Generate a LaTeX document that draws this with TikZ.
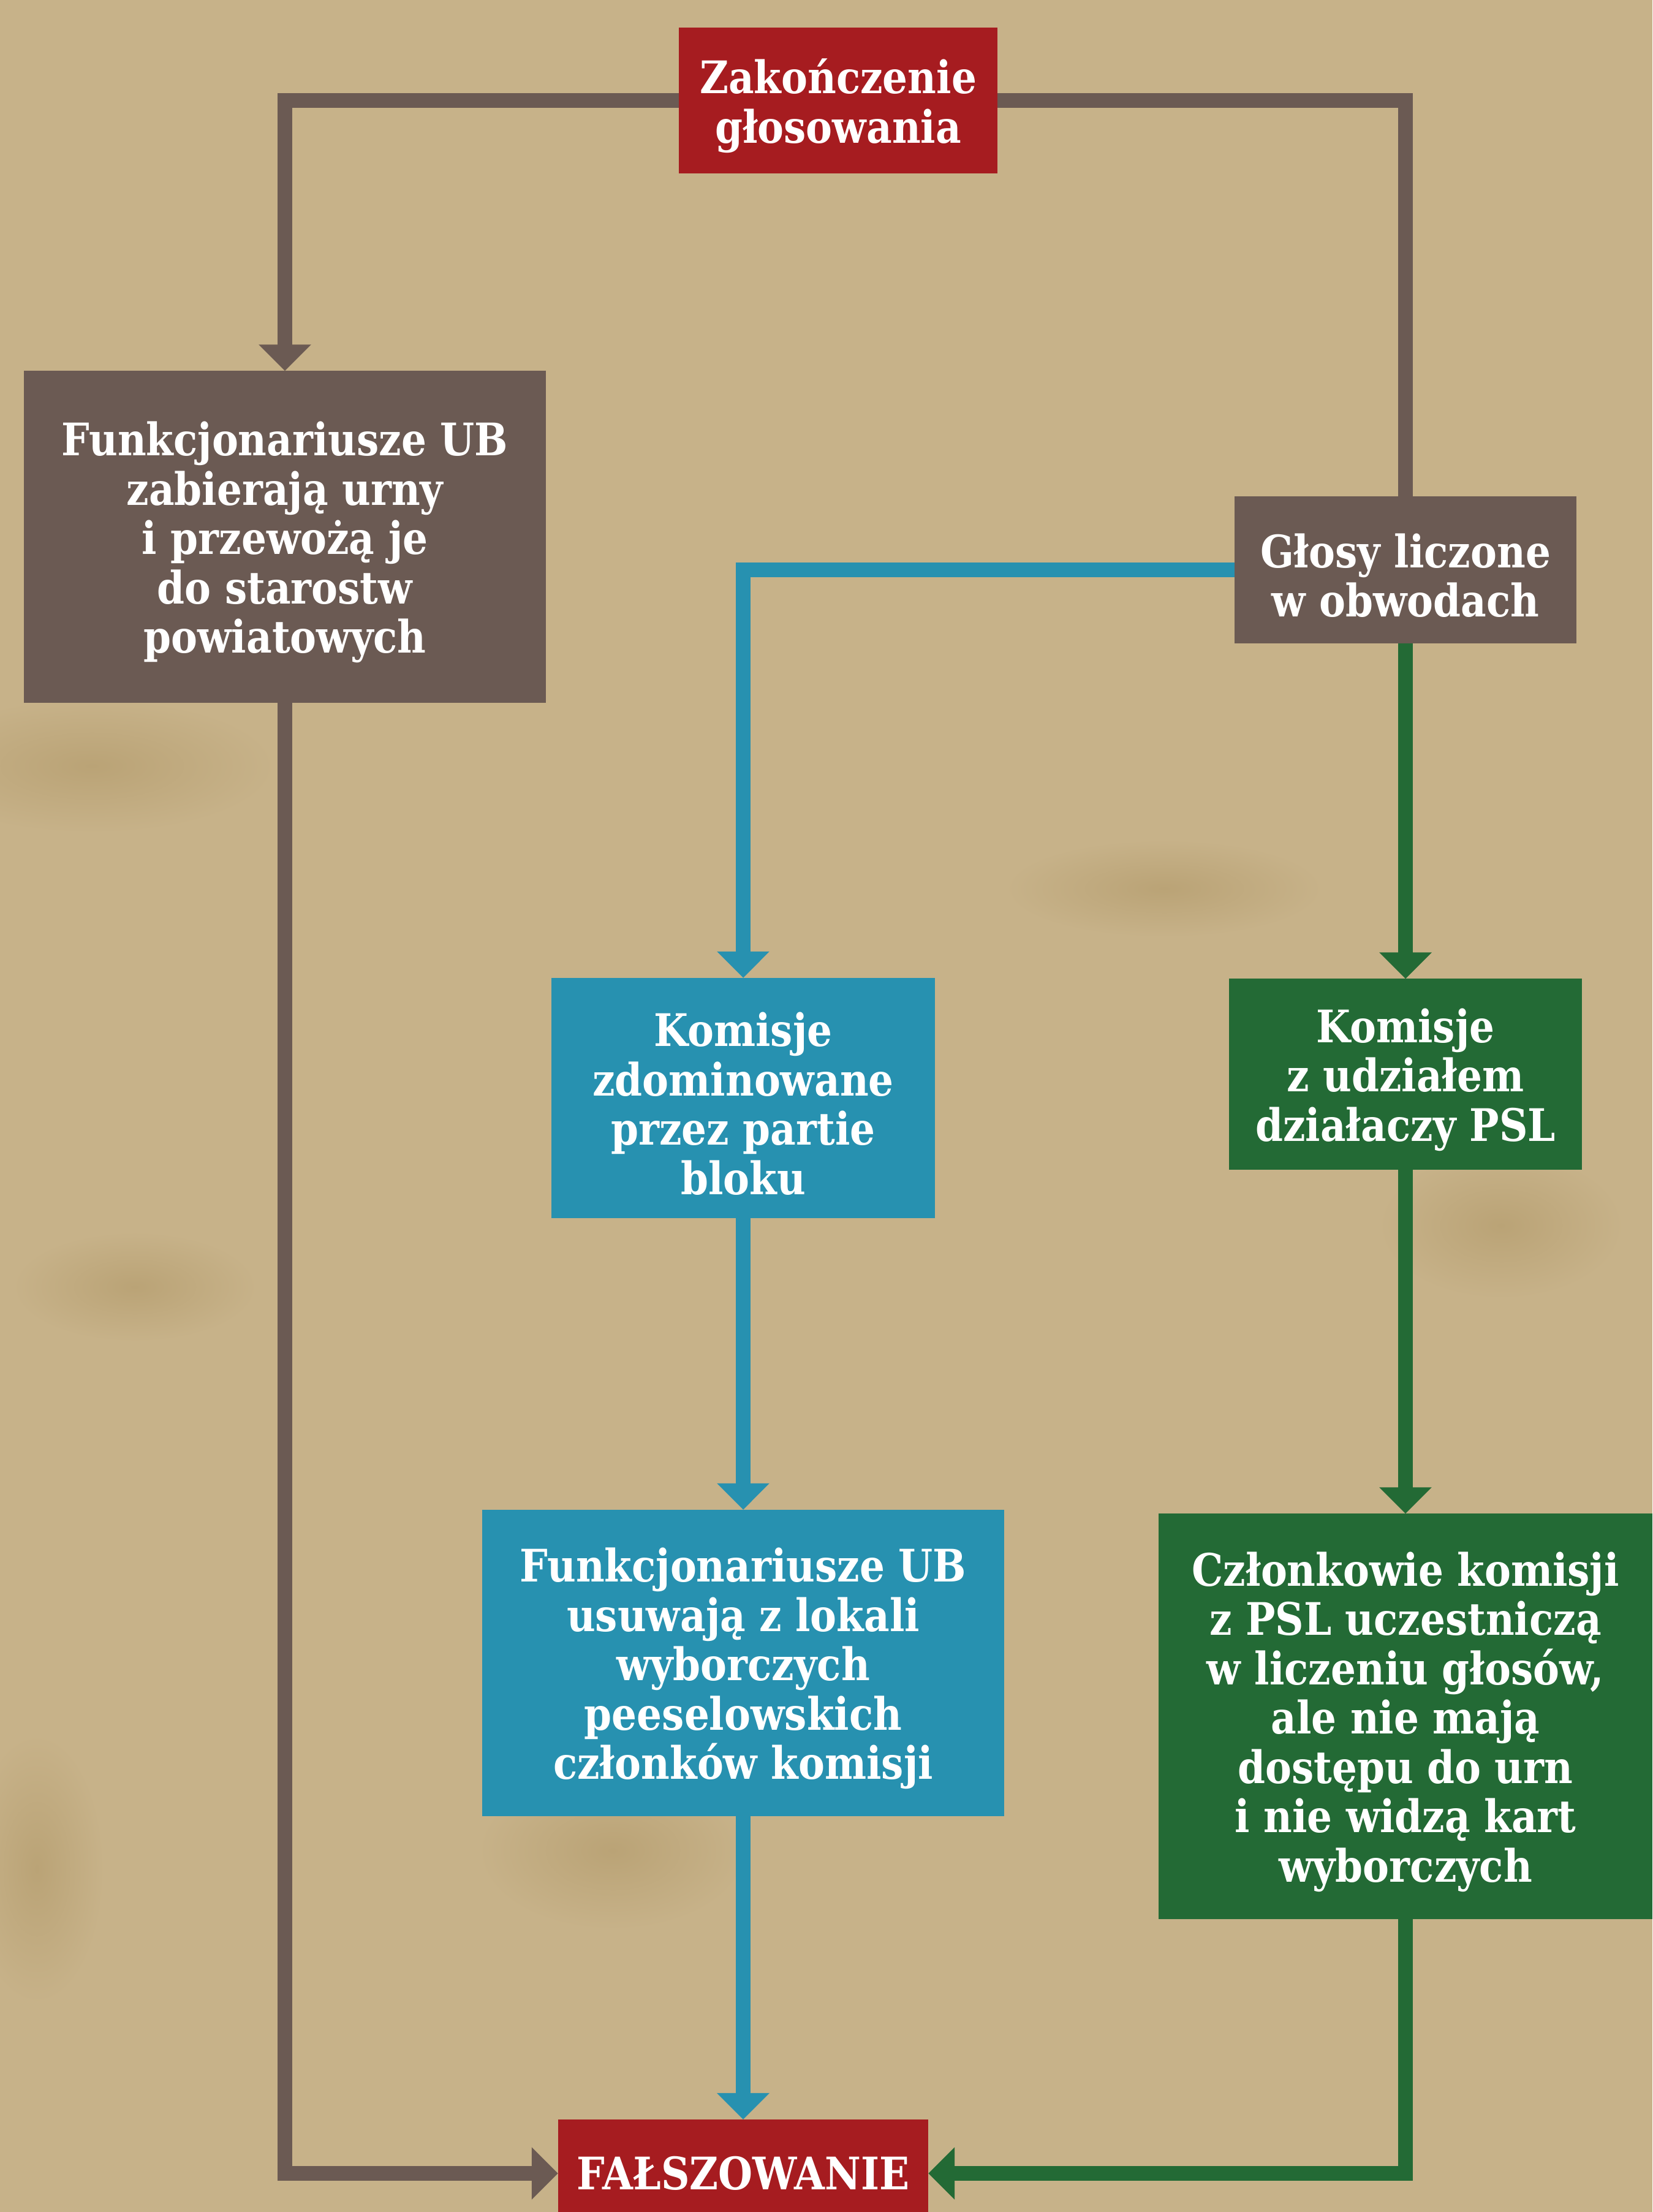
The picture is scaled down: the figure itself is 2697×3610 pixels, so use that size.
\documentclass[tikz,border=0pt]{standalone}
\usepackage{fontspec}
\setmainfont{DejaVu Serif}[FakeStretch=0.88]
\usetikzlibrary{arrows.meta}
\definecolor{paper}{RGB}{199,178,137}
\definecolor{stain}{RGB}{186,163,118}
\definecolor{boxred}{RGB}{166,28,32}
\definecolor{boxbrown}{RGB}{107,90,83}
\definecolor{boxblue}{RGB}{39,145,176}
\definecolor{boxgreen}{RGB}{35,106,53}
\tikzset{
  box/.style={rectangle, inner sep=0pt, outer sep=0pt},
  txt/.style={inner sep=0pt, text=white, align=center, yshift=-0.09cm,
    font=\bfseries\fontsize{20.8}{22.9}\selectfont},
  conn/.style={line width=0.24cm, line join=miter,
    -{Triangle[width=0.83cm,length=0.43cm]}},
  blot/.style={inner color=stain, outer color=paper},
}
\begin{document}
\begin{tikzpicture}[x=0.01cm,y=-0.01cm]
\useasboundingbox (0,0) rectangle (2697,3610);
\clip (0,0) rectangle (2697,3610);
\fill[paper] (0,0) rectangle (2697,3610);
% soft paper stains
\shade[blot] (150,1250) ellipse (300 and 110);
\shade[blot] (1000,3020) ellipse (220 and 130);
\shade[blot] (220,2100) ellipse (200 and 90);
\shade[blot] (1900,1450) ellipse (260 and 80);
\shade[blot] (60,3050) ellipse (110 and 220);
\shade[blot] (2450,2000) ellipse (200 and 120);
% nodes
\node[box, fill=boxred, minimum width=5.20cm, minimum height=2.37cm,
  label={[txt]center:Zakończenie\\głosowania}] (top) at (1368,164) {};
\node[box, fill=boxbrown, minimum width=8.52cm, minimum height=5.41cm,
  label={[txt]center:Funkcjonariusze UB\\zabierają urny\\i przewożą je\\do starostw\\powiatowych}] (ub1) at (465,876) {};
\node[box, fill=boxbrown, minimum width=5.57cm, minimum height=2.39cm,
  label={[txt]center:Głosy liczone\\w obwodach}] (glosy) at (2294,930) {};
\node[box, fill=boxblue, minimum width=6.25cm, minimum height=3.92cm,
  label={[txt]center:Komisje\\zdominowane\\przez partie\\bloku}] (kom1) at (1213,1792) {};
\node[box, fill=boxblue, minimum width=8.52cm, minimum height=5.00cm,
  label={[txt]center:Funkcjonariusze UB\\usuwają z lokali\\wyborczych\\peeselowskich\\członków komisji}] (ub2) at (1213,2714) {};
\node[box, fill=boxgreen, minimum width=5.76cm, minimum height=3.11cm,
  label={[txt]center:Komisje\\z udziałem\\działaczy PSL}] (kom2) at (2294,1753) {};
\node[box, fill=boxgreen, minimum width=8.06cm, minimum height=6.61cm,
  label={[txt]center:Członkowie komisji\\z PSL uczestniczą\\w liczeniu głosów,\\ale nie mają\\dostępu do urn\\i nie widzą kart\\wyborczych}] (czl) at (2294,2801) {};
\node[box, fill=boxred, minimum width=6.04cm, minimum height=1.76cm,
  label={[txt, yshift=0.09cm]center:FAŁSZOWANIE}] (falsz) at (1213,3547) {};
% connectors
\draw[conn, boxbrown] (top.west) -| (ub1.north);
\draw[line width=0.24cm, line join=miter, boxbrown] (top.east) -| (glosy.north);
\draw[conn, boxbrown] (ub1.south) |- (falsz.west);
\draw[conn, boxblue] (glosy.west) -| (kom1.north);
\draw[conn, boxblue] (kom1.south) -- (ub2.north);
\draw[conn, boxblue] (ub2.south) -- (falsz.north);
\draw[conn, boxgreen] (glosy.south) -- (kom2.north);
\draw[conn, boxgreen] (kom2.south) -- (czl.north);
\draw[conn, boxgreen] (czl.south) |- (falsz.east);
\end{tikzpicture}
\end{document}
